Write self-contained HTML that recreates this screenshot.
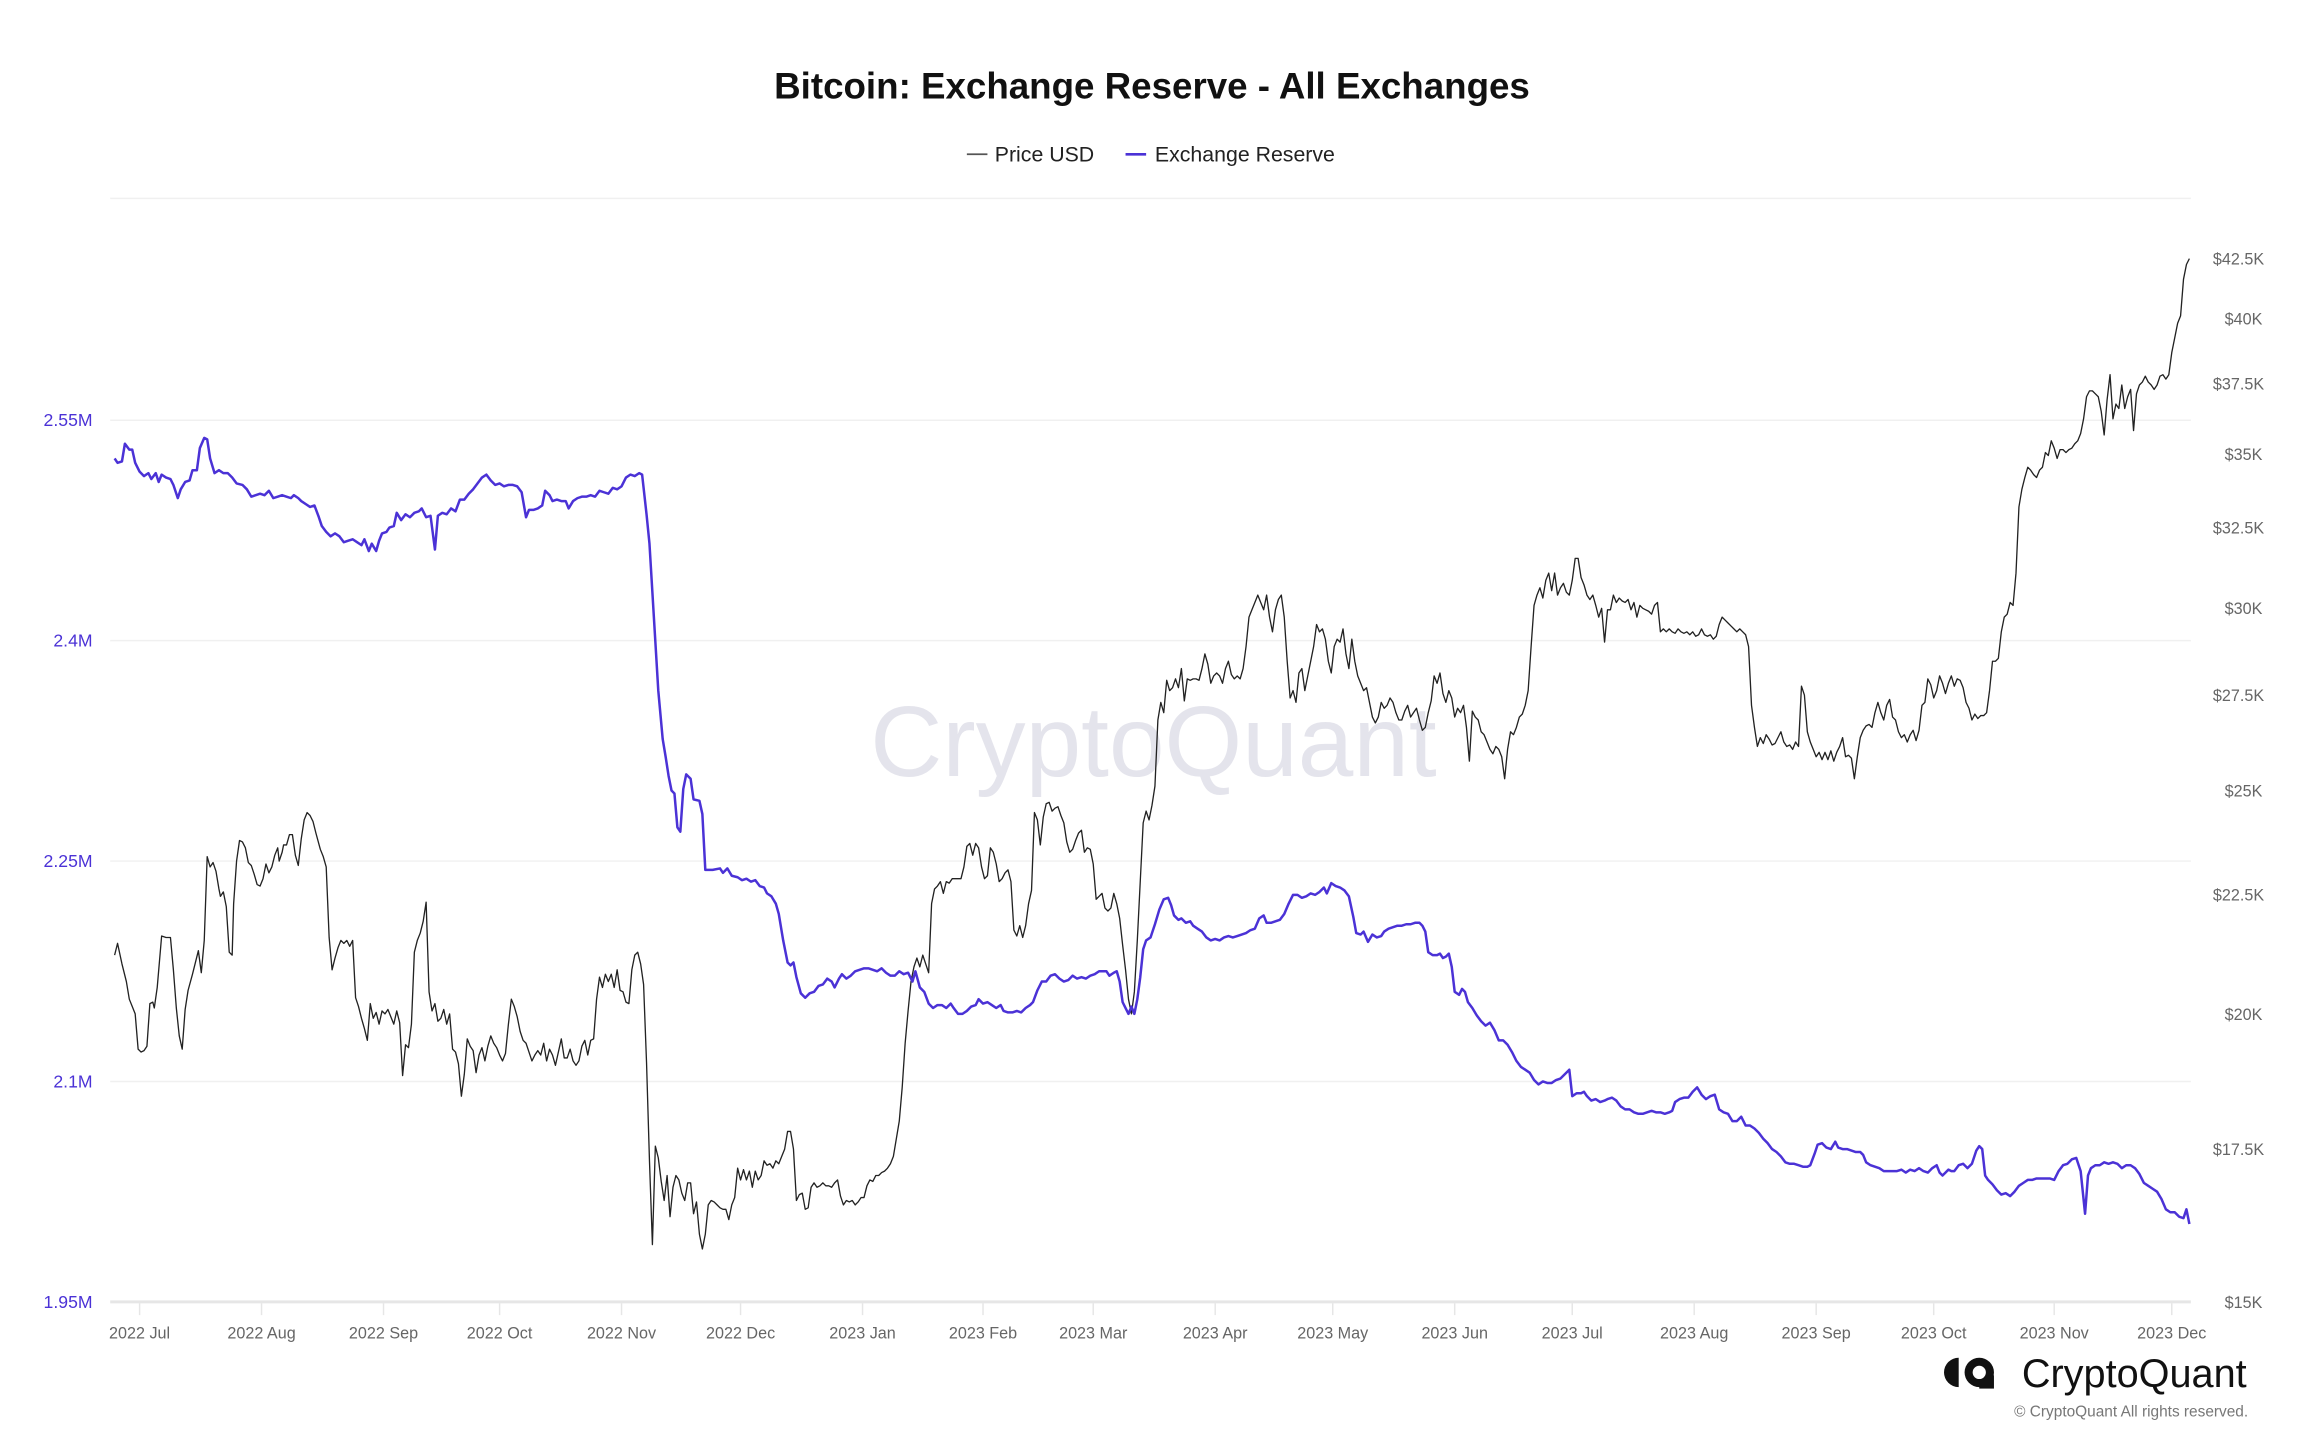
<!DOCTYPE html>
<html><head><meta charset="utf-8"><style>
html,body{margin:0;padding:0;background:#fff;}
svg{display:block;font-family:"Liberation Sans",Arial,sans-serif;}
</style></head><body>
<svg width="2304" height="1450" viewBox="0 0 1568 986.8" preserveAspectRatio="none" xmlns="http://www.w3.org/2000/svg">
<rect width="1568" height="986.8" fill="#fff"/>
<text x="784" y="67" text-anchor="middle" font-size="25" font-weight="bold" fill="#111">Bitcoin: Exchange Reserve - All Exchanges</text>
<line x1="658" y1="105" x2="672" y2="105" stroke="#555" stroke-width="1.2"/>
<text x="677" y="110" font-size="14.5" fill="#222">Price USD</text>
<line x1="766" y1="105" x2="780" y2="105" stroke="#4b32d6" stroke-width="1.8"/>
<text x="786" y="110" font-size="14.5" fill="#222">Exchange Reserve</text>
<g stroke="#f0f0f0" stroke-width="1">
<line x1="75" y1="135" x2="1491" y2="135"/>
<line x1="75" y1="286" x2="1491" y2="286"/>
<line x1="75" y1="436" x2="1491" y2="436"/>
<line x1="75" y1="586" x2="1491" y2="586"/>
<line x1="75" y1="736" x2="1491" y2="736"/>
</g>
<line x1="75" y1="886" x2="1491" y2="886" stroke="#e6e6e6" stroke-width="2"/>
<g stroke="#e6e6e6" stroke-width="1">
<line x1="95" y1="887" x2="95" y2="895"/><line x1="178" y1="887" x2="178" y2="895"/><line x1="261" y1="887" x2="261" y2="895"/><line x1="340" y1="887" x2="340" y2="895"/><line x1="423" y1="887" x2="423" y2="895"/><line x1="504" y1="887" x2="504" y2="895"/><line x1="587" y1="887" x2="587" y2="895"/><line x1="669" y1="887" x2="669" y2="895"/><line x1="744" y1="887" x2="744" y2="895"/><line x1="827" y1="887" x2="827" y2="895"/><line x1="907" y1="887" x2="907" y2="895"/><line x1="990" y1="887" x2="990" y2="895"/><line x1="1070" y1="887" x2="1070" y2="895"/><line x1="1153" y1="887" x2="1153" y2="895"/><line x1="1236" y1="887" x2="1236" y2="895"/><line x1="1316" y1="887" x2="1316" y2="895"/><line x1="1398" y1="887" x2="1398" y2="895"/><line x1="1478" y1="887" x2="1478" y2="895"/>
</g>
<g font-size="11" fill="#666" text-anchor="middle">
<text x="95" y="911">2022 Jul</text><text x="178" y="911">2022 Aug</text><text x="261" y="911">2022 Sep</text><text x="340" y="911">2022 Oct</text><text x="423" y="911">2022 Nov</text><text x="504" y="911">2022 Dec</text><text x="587" y="911">2023 Jan</text><text x="669" y="911">2023 Feb</text><text x="744" y="911">2023 Mar</text><text x="827" y="911">2023 Apr</text><text x="907" y="911">2023 May</text><text x="990" y="911">2023 Jun</text><text x="1070" y="911">2023 Jul</text><text x="1153" y="911">2023 Aug</text><text x="1236" y="911">2023 Sep</text><text x="1316" y="911">2023 Oct</text><text x="1398" y="911">2023 Nov</text><text x="1478" y="911">2023 Dec</text>
</g>
<g font-size="12" fill="#4b32d6" text-anchor="end">
<text x="63" y="290">2.55M</text><text x="63" y="440">2.4M</text><text x="63" y="590">2.25M</text><text x="63" y="740">2.1M</text><text x="63" y="890">1.95M</text>
</g>
<g font-size="11" fill="#666">
<text x="1506" y="180">$42.5K</text><text x="1514" y="221">$40K</text><text x="1506" y="265">$37.5K</text><text x="1514" y="313">$35K</text><text x="1506" y="363">$32.5K</text><text x="1514" y="418">$30K</text><text x="1506" y="477">$27.5K</text><text x="1514" y="542">$25K</text><text x="1506" y="613">$22.5K</text><text x="1514" y="694">$20K</text><text x="1506" y="786">$17.5K</text><text x="1514" y="890">$15K</text>
</g>
<text x="785" y="528" text-anchor="middle" font-size="68" fill="#e2e2ea" opacity="0.9">CryptoQuant</text>
<polyline fill="none" stroke="#222" stroke-width="0.9" stroke-linejoin="round" points="78,650 80,642 83,656 86,668 88,680 90,685 92,690 94,714 96,716 98,715 100,712 102,683 104,682 105,686 107,672 110,637 113,638 116,638 118,660 120,686 122,705 124,714 126,687 128,674 131,663 133,655 135,647 137,662 139,640 141,583 143,590 145,587 147,593 149,605 150,610 152,607 154,617 156,648 158,650 159,615 161,586 163,572 165,573 167,577 169,587 171,589 173,595 175,602 177,603 179,598 181,588 183,594 185,590 187,582 189,577 190,586 192,580 193,575 195,575 197,568 199,568 201,582 203,589 205,571 207,558 209,553 211,555 213,559 215,567 218,578 220,583 222,590 224,638 226,660 228,652 230,645 232,640 234,642 236,640 238,644 240,640 242,679 244,685 246,693 248,700 250,708 252,683 254,693 256,689 258,697 260,688 262,690 264,687 266,692 268,697 270,688 272,696 274,732 276,711 278,713 280,697 282,648 284,640 286,635 288,627 290,614 292,675 294,688 296,683 298,695 300,693 302,687 304,697 306,690 308,714 310,716 312,724 314,746 316,731 318,707 320,712 322,715 324,730 326,718 328,713 330,722 332,712 334,705 336,710 338,713 340,718 342,722 344,717 346,697 348,680 350,685 352,692 354,702 356,708 358,710 360,716 362,722 364,718 366,715 368,718 370,710 372,722 374,714 376,718 378,725 380,716 382,707 384,720 386,720 388,714 390,722 392,725 394,722 396,712 398,708 400,718 402,708 404,707 406,680 408,665 410,672 412,663 414,668 416,663 418,672 420,660 422,674 424,675 426,682 428,683 430,660 432,650 434,648 436,656 438,670 440,723 442,790 444,847 446,780 448,788 450,804 452,817 454,800 456,828 458,808 460,800 462,803 464,812 466,817 468,805 470,805 472,826 474,818 476,840 478,850 480,840 482,820 484,817 486,818 488,820 490,822 492,823 494,823 496,830 498,820 500,815 502,795 504,803 506,796 508,803 510,797 512,808 514,797 516,803 518,800 520,790 522,793 524,792 526,795 528,790 530,792 532,787 534,782 536,770 538,770 540,782 542,817 544,813 546,812 548,823 550,822 552,808 554,805 556,808 558,807 560,805 562,807 564,807 566,808 568,805 570,803 572,814 574,820 576,817 578,818 580,817 582,820 584,818 586,815 588,815 590,807 592,803 594,804 596,800 598,800 600,798 602,797 604,795 606,792 608,787 610,775 612,763 614,740 616,710 618,688 620,668 622,658 624,652 626,658 628,650 630,656 632,662 634,615 636,605 638,603 640,600 642,608 644,600 646,601 648,598 650,598 652,598 654,598 656,590 658,576 660,574 662,582 664,574 666,577 668,590 670,598 672,596 674,577 676,580 678,588 680,600 682,598 684,594 686,592 688,600 690,633 692,637 694,630 696,638 698,630 700,615 702,606 704,553 706,558 708,575 710,556 712,547 714,546 716,552 718,550 720,549 722,555 724,560 726,573 728,580 730,578 732,572 734,567 736,565 738,580 740,577 742,578 744,588 746,612 748,610 750,608 752,618 754,620 756,618 758,608 760,615 762,625 764,643 766,660 768,680 770,690 772,675 774,640 776,600 778,560 780,552 782,558 784,548 786,535 788,490 790,478 792,485 794,463 796,470 798,468 800,462 802,468 804,455 806,477 808,462 810,463 812,462 814,462 816,463 818,455 820,445 822,452 824,465 826,460 828,458 830,460 832,465 834,455 836,450 838,459 840,462 842,460 844,462 846,455 848,440 850,420 852,415 854,410 856,405 858,410 860,415 862,405 864,420 866,430 868,415 870,408 872,405 874,420 876,450 878,475 880,470 882,478 884,458 886,455 888,470 890,460 892,450 894,440 896,425 898,430 900,428 902,435 904,450 906,458 908,440 910,435 912,437 914,428 916,445 918,455 920,435 922,450 924,460 926,465 928,470 930,468 932,478 934,488 936,492 938,488 940,478 942,482 944,480 946,475 948,478 950,485 952,490 954,490 956,484 958,480 960,488 962,485 964,482 966,490 968,497 970,495 972,485 974,477 976,460 978,465 980,458 982,472 984,478 986,470 988,475 990,488 992,482 994,485 996,480 998,495 1000,518 1002,484 1004,488 1006,490 1008,498 1010,500 1012,505 1014,510 1016,513 1018,508 1020,510 1022,515 1024,530 1026,510 1028,498 1030,500 1032,495 1034,488 1036,486 1038,480 1040,470 1042,440 1044,412 1046,405 1048,400 1050,407 1052,395 1054,390 1056,402 1058,390 1060,405 1062,400 1064,397 1066,403 1068,405 1070,395 1072,380 1074,380 1076,393 1078,398 1080,405 1082,408 1084,405 1086,412 1088,420 1090,414 1092,437 1094,415 1096,415 1098,405 1100,410 1102,407 1104,409 1106,410 1108,408 1110,415 1112,410 1114,420 1116,412 1118,414 1120,415 1122,416 1124,418 1126,412 1128,410 1130,430 1132,428 1134,430 1136,428 1138,430 1140,431 1142,428 1144,430 1146,431 1148,430 1150,432 1152,430 1154,433 1156,432 1158,428 1160,432 1162,433 1164,432 1166,435 1168,433 1170,425 1172,420 1174,422 1176,424 1178,426 1180,428 1182,430 1184,428 1186,430 1188,432 1190,440 1192,480 1194,495 1196,508 1198,502 1200,506 1202,500 1204,503 1206,507 1208,506 1210,502 1212,498 1214,505 1216,508 1218,507 1220,510 1222,505 1224,508 1226,467 1228,473 1230,498 1232,505 1234,510 1236,515 1238,512 1240,517 1242,512 1244,517 1246,511 1248,518 1250,512 1252,508 1254,502 1256,515 1258,514 1260,516 1262,530 1264,515 1266,502 1268,497 1270,494 1272,493 1274,495 1276,485 1278,478 1280,485 1282,490 1284,480 1286,476 1288,488 1290,490 1292,498 1294,502 1296,500 1298,505 1300,500 1302,497 1304,504 1306,497 1308,480 1310,478 1312,462 1314,466 1316,475 1318,470 1320,460 1322,465 1324,472 1326,465 1328,460 1330,467 1332,462 1334,463 1336,468 1338,478 1340,482 1342,490 1344,486 1346,489 1348,487 1350,487 1352,485 1354,470 1356,450 1358,450 1360,448 1362,430 1364,420 1366,418 1368,410 1370,412 1372,390 1374,345 1376,333 1378,325 1380,318 1382,320 1384,323 1386,325 1388,320 1390,318 1392,308 1394,310 1396,300 1398,305 1400,312 1402,306 1404,306 1406,308 1408,306 1410,305 1412,302 1414,300 1416,295 1418,285 1420,270 1422,266 1424,266 1426,268 1428,270 1430,280 1432,296 1434,272 1436,255 1438,285 1440,275 1442,278 1444,262 1446,278 1448,270 1450,265 1452,293 1454,268 1456,262 1458,260 1460,256 1462,260 1464,262 1466,265 1468,262 1470,256 1472,255 1474,258 1476,255 1478,240 1480,230 1482,220 1484,215 1486,190 1488,180 1490,176"/>
<polyline fill="none" stroke="#4b32d6" stroke-width="1.7" stroke-linejoin="round" points="78,312 80,315 83,314 85,302 88,306 90,306 92,315 95,321 98,324 101,322 103,326 106,322 108,328 110,323 113,325 116,326 118,330 121,339 123,333 126,328 129,327 131,320 134,320 136,305 139,298 141,299 143,312 146,322 149,320 152,322 155,322 158,325 161,329 165,330 168,333 171,338 174,337 177,336 180,337 183,334 186,339 189,338 192,337 195,338 198,339 200,337 203,339 205,341 208,343 211,345 214,344 217,352 219,358 222,362 225,365 228,363 231,365 234,369 237,368 240,367 243,369 246,371 248,367 251,375 253,370 256,375 258,368 260,363 263,362 265,359 268,358 270,349 273,354 276,350 279,352 282,349 285,348 287,346 290,352 293,351 296,374 298,351 301,349 304,350 307,346 310,348 313,340 316,340 319,336 322,333 325,329 328,325 331,323 334,327 337,330 340,329 343,331 346,330 349,330 352,331 355,335 358,352 360,347 363,347 366,346 369,344 371,334 374,337 376,341 379,340 382,341 385,341 387,346 390,341 393,339 396,338 399,338 402,337 405,338 408,334 411,335 414,336 417,332 420,333 423,331 426,325 429,323 432,324 435,322 437,323 440,350 442,370 445,420 448,470 451,503 453,515 455,528 457,538 459,540 461,563 463,566 465,537 467,527 470,530 472,544 476,545 478,554 480,592 485,592 490,591 492,594 495,591 498,596 502,597 505,599 508,598 511,600 514,599 517,603 520,604 522,608 525,610 528,615 530,622 533,640 536,655 538,657 540,655 542,665 545,676 548,679 551,676 554,675 557,671 560,670 563,666 566,668 568,672 571,666 573,663 576,666 579,664 582,661 585,660 588,659 591,659 594,660 597,661 600,659 603,662 606,664 609,664 612,661 615,663 618,662 621,668 623,661 626,672 629,675 632,683 635,686 638,684 641,684 644,686 647,683 649,686 652,690 655,690 658,688 661,685 664,684 666,680 669,683 672,682 675,684 678,686 681,684 683,688 686,689 689,689 692,688 695,689 698,686 701,684 703,682 706,674 709,668 712,668 715,664 718,663 721,666 724,668 727,667 730,664 733,666 736,665 739,666 742,664 745,663 748,661 751,661 753,661 755,664 758,662 760,661 762,668 764,682 766,686 768,690 770,685 772,690 774,680 776,665 778,646 780,640 783,638 786,629 789,619 792,612 795,611 797,616 799,623 802,626 804,625 807,628 810,627 812,630 815,632 818,634 821,638 824,640 827,639 830,640 833,638 836,637 839,638 842,637 845,636 848,635 851,633 854,632 857,625 860,623 862,628 865,628 868,627 871,626 874,622 877,615 880,609 883,609 886,611 889,610 892,608 895,609 898,607 901,604 903,608 906,601 909,603 912,604 915,606 918,610 921,624 923,635 926,636 928,634 931,641 934,636 937,638 940,637 942,634 945,632 948,631 951,630 954,630 957,629 960,629 963,628 966,628 968,630 970,634 972,648 975,650 978,650 980,649 982,652 984,651 986,649 988,658 990,675 993,677 995,673 997,675 999,682 1002,686 1005,691 1008,695 1011,698 1014,696 1017,701 1020,708 1023,708 1026,711 1029,716 1032,722 1035,726 1038,728 1041,730 1044,735 1047,738 1050,736 1053,737 1056,737 1059,735 1062,734 1065,731 1068,728 1070,746 1073,744 1076,744 1078,743 1080,746 1083,749 1086,748 1089,750 1092,749 1094,748 1097,747 1100,749 1103,753 1106,755 1109,755 1112,757 1115,758 1118,758 1121,757 1124,756 1127,757 1130,757 1133,758 1136,757 1138,756 1140,750 1143,748 1146,747 1149,747 1152,743 1155,740 1158,745 1161,748 1164,746 1167,745 1170,755 1173,757 1176,758 1179,763 1182,763 1185,760 1188,766 1191,766 1194,768 1197,771 1200,775 1203,778 1206,782 1209,784 1212,787 1215,791 1218,792 1221,792 1224,793 1227,794 1230,794 1232,793 1235,785 1237,779 1240,778 1243,781 1246,782 1249,777 1251,781 1254,782 1257,782 1260,783 1263,784 1266,784 1268,786 1270,791 1273,793 1276,794 1279,795 1282,797 1285,797 1288,797 1291,797 1294,796 1297,798 1300,796 1303,797 1306,795 1309,797 1312,798 1315,795 1318,793 1320,798 1322,800 1324,798 1326,796 1328,797 1330,797 1333,793 1336,792 1339,795 1342,792 1345,783 1347,780 1349,782 1351,800 1353,803 1356,806 1359,810 1362,813 1365,812 1368,814 1371,811 1374,807 1377,805 1380,803 1383,803 1386,802 1389,802 1392,802 1395,802 1398,803 1401,797 1404,793 1407,792 1410,789 1413,788 1416,797 1419,826 1421,800 1423,795 1426,793 1429,793 1432,791 1435,792 1438,791 1441,792 1444,795 1447,793 1450,793 1453,795 1456,799 1459,805 1462,807 1465,809 1468,811 1471,816 1474,823 1477,825 1480,825 1483,828 1486,829 1488,823 1490,833"/>
<g fill="#111">
<path d="M1333,924 a10,10 0 0 0 0,20 z"/>
<circle cx="1347" cy="934" r="10"/>
<rect x="1347" y="936" width="10" height="9" fill="#111"/>
<circle cx="1347" cy="934" r="4.5" fill="#fff"/>
</g>
<text x="1529" y="944" text-anchor="end" font-size="27" fill="#111">CryptoQuant</text>
<text x="1530" y="964" text-anchor="end" font-size="10.5" fill="#777">© CryptoQuant All rights reserved.</text>
</svg>
</body></html>
